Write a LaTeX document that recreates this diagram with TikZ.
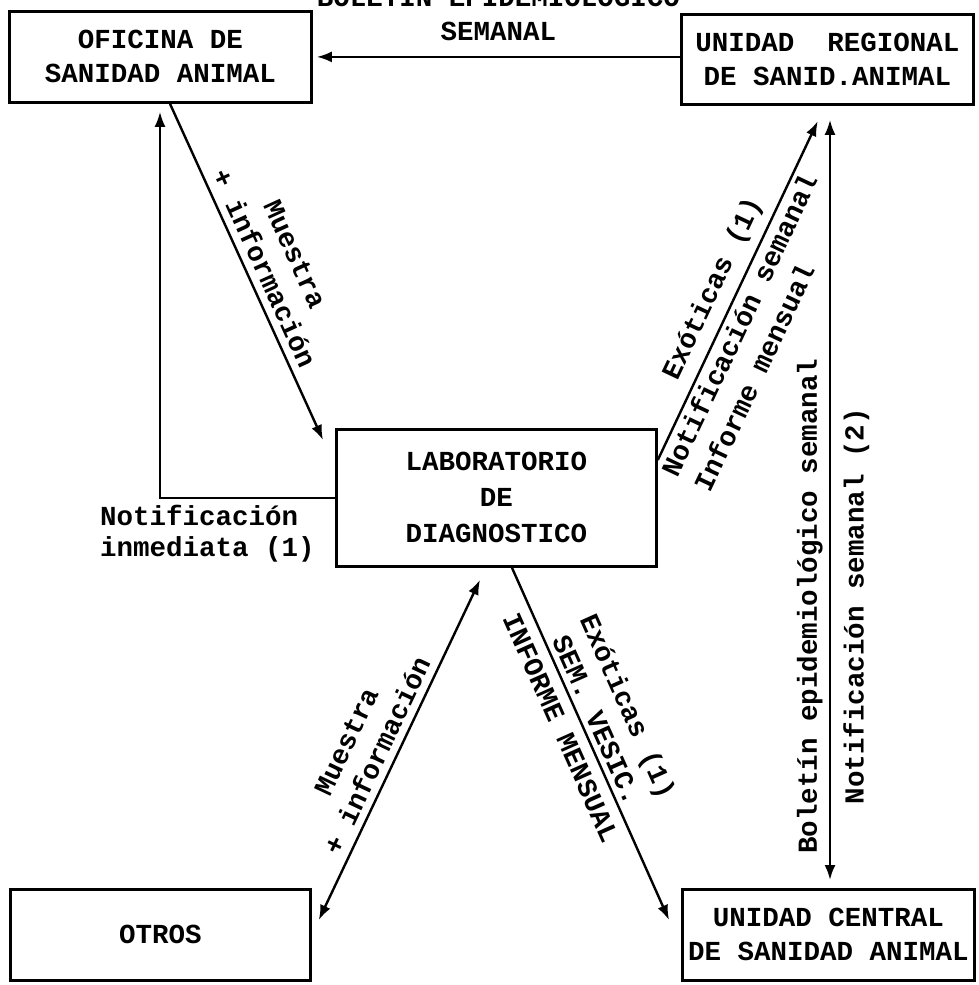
\documentclass[tikz,border=0pt]{standalone}
\usepackage{fontspec}
\setmonofont{Liberation Mono}
\usetikzlibrary{arrows.meta}

\begin{document}
\begin{tikzpicture}[x=1pt,y=-1pt,
  every node/.style={inner sep=2pt,font=\ttfamily\bfseries\fontsize{27.5}{34}\selectfont},
  box/.style={draw,line width=2.8pt,anchor=north west,align=center},
  link/.style={line width=2.4pt,-{Latex[length=15pt,width=11pt]}},
  dlink/.style={line width=2.4pt,{Latex[length=15pt,width=11pt]}-{Latex[length=15pt,width=11pt]}}]
\useasboundingbox (0,0) rectangle (978,985);
\node[box,minimum width=302pt,minimum height=91pt] (ofi) at (8,10) {OFICINA DE\\SANIDAD ANIMAL};
\node[box,minimum width=292pt,minimum height=90pt] (ureg) at (680,13) {UNIDAD~~REGIONAL\\DE SANID.ANIMAL};
\node[box,minimum width=320pt,minimum height=137pt,font=\ttfamily\bfseries\fontsize{27.5}{36}\selectfont] (lab) at (335,428) {LABORATORIO\\DE\\DIAGNOSTICO};
\node[box,minimum width=300pt,minimum height=91pt] (otros) at (9,888) {OTROS};
\node[box,minimum width=292pt,minimum height=91pt] (ucen) at (681,888) {UNIDAD CENTRAL\\DE SANIDAD ANIMAL};
\node[anchor=north west,align=left,font=\ttfamily\bfseries\fontsize{27.5}{31}\selectfont] (notif) at (98,503) {Notificación\\inmediata (1)};

\draw[link] (ureg.west |- ofi.east) -- node[above=13pt,align=center] {BOLETIN EPIDEMIOLOGICO\\SEMANAL} ([xshift=4pt]ofi.east);
\draw[link] (lab.west) -| ([xshift=152pt,yshift=-8pt]ofi.south west);
\draw[link] ([xshift=162pt]ofi.south west) -- node[sloped,above=5pt,pos=0.51,align=center] {Muestra\\+ información} ([xshift=-12pt,yshift=-12pt]lab.north west);
\draw[link,shorten >=17pt] ([yshift=-32pt]lab.north east) -- node[sloped,above=7pt,pos=0.456] {Exóticas (1)} node[sloped,below=2pt,pos=0.40,align=left,font=\ttfamily\bfseries\fontsize{27.5}{36}\selectfont] {Notificación semanal\\Informe mensual} ([xshift=145pt]ureg.south west);
\draw[dlink,shorten <=8pt,shorten >=14pt] ([xshift=149pt]ucen.north west) -- node[sloped,above=4pt,pos=0.36] {Boletín epidemiológico semanal} node[sloped,below=10pt,pos=0.36] {Notificación semanal (2)} ([xshift=150pt]ureg.south west);
\draw[dlink] ([xshift=7pt,yshift=-32pt]otros.north east) -- node[sloped,above=5pt,pos=0.46,align=center] {Muestra\\+ información} ([xshift=145pt,yshift=-12pt]lab.south west);
\draw[link] ([xshift=177pt]lab.south west) -- node[sloped,above=3pt,pos=0.45,align=center] {Exóticas (1)\\SEM. VESIC.} node[sloped,below=8pt,pos=0.43] {INFORME MENSUAL} ([xshift=-12pt,yshift=-32pt]ucen.north west);
\end{tikzpicture}
\end{document}
